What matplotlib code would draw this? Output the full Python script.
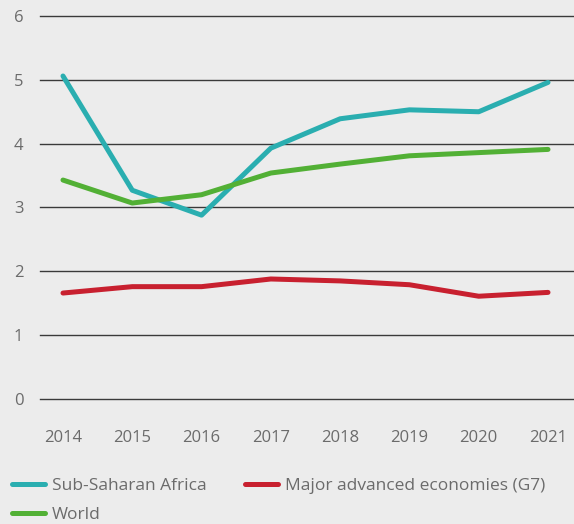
import matplotlib
matplotlib.use("Agg")
import matplotlib.pyplot as plt

years = [2014, 2015, 2016, 2017, 2018, 2019, 2020, 2021]
ssa = [5.06, 3.27, 2.88, 3.93, 4.39, 4.53, 4.50, 4.96]
g7 = [1.66, 1.76, 1.76, 1.88, 1.85, 1.79, 1.61, 1.67]
world = [3.43, 3.07, 3.20, 3.54, 3.68, 3.81, 3.86, 3.91]

BG = "#ececec"
TEXT = "#6b6b6b"

plt.rcParams["font.family"] = ["Open Sans", "DejaVu Sans"]

fig = plt.figure(figsize=(5.74, 5.24), dpi=100, facecolor=BG)
ax = fig.add_axes([40 / 574, 1 - 399 / 524, 1 - 40 / 574, (399 - 16) / 524])
ax.set_facecolor(BG)

l1, = ax.plot(years, ssa, color="#2aaeb0", lw=3.6, solid_capstyle="round",
              label="Sub-Saharan Africa", clip_on=False)
l2, = ax.plot(years, g7, color="#c8202f", lw=3.6, solid_capstyle="round",
              label="Major advanced economies (G7)", clip_on=False)
l3, = ax.plot(years, world, color="#52b035", lw=3.6, solid_capstyle="round",
              label="World", clip_on=False)

ax.set_xlim(2014 - 23 / 69.3, 2021 + 26 / 69.3)
ax.set_ylim(0, 6)
ax.set_yticks(range(0, 7))
ax.set_xticks(years)
ax.yaxis.grid(True, color="#3a3a3a", lw=1.0)
for gl in ax.get_ygridlines():
    gl.set_clip_on(False)
ax.set_axisbelow(True)
for s in ax.spines.values():
    s.set_visible(False)
ax.tick_params(axis="both", length=0, labelsize=12, labelcolor=TEXT)
ax.tick_params(axis="y", pad=12)
ax.tick_params(axis="x", pad=22)

fig.legend(handles=[l1, l3, l2], loc="lower left", bbox_to_anchor=(0.0, -0.022),
           ncol=2, frameon=False, fontsize=12.5, labelcolor=TEXT,
           handlelength=1.9, handletextpad=0.4, columnspacing=2.2,
           labelspacing=0.78, borderaxespad=0.3)

fig.savefig("out.png", dpi=100, facecolor=BG)
